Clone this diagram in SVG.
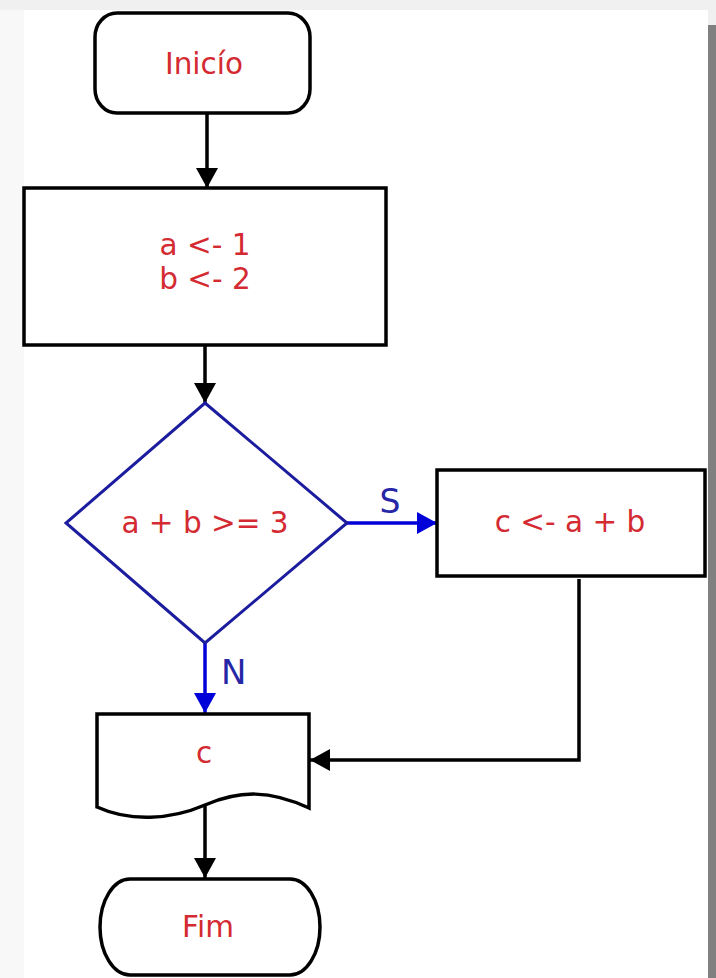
<svg xmlns="http://www.w3.org/2000/svg" width="716" height="978" viewBox="0 0 716 978">
<style>
.shape{fill:#ffffff;stroke:#000000;stroke-width:3.5}
.dia{fill:#ffffff;stroke:#1c1c9e;stroke-width:3}
.lbl{font-family:"DejaVu Sans",Verdana,sans-serif;font-size:29.5px;fill:#d42a32;text-anchor:middle}
.lbl2{font-family:"DejaVu Sans",Verdana,sans-serif;fill:#2626a6}
.conn{fill:none;stroke:#000000;stroke-width:3.5}
.connb{fill:none;stroke:#0000d8;stroke-width:3.5}
</style>
<defs>
<marker id="ah" markerUnits="userSpaceOnUse" markerWidth="22" markerHeight="24" refX="20" refY="11" orient="auto">
<path d="M0,0 L20,11 L0,22 Z" fill="#000000"/>
</marker>
<marker id="ahb" markerUnits="userSpaceOnUse" markerWidth="22" markerHeight="24" refX="20" refY="11" orient="auto">
<path d="M0,0 L20,11 L0,22 Z" fill="#0000d8"/>
</marker>
</defs>
<rect x="0" y="0" width="716" height="978" fill="#f0f0f0"/>
<rect x="0" y="10" width="24" height="968" fill="#f8f8f8"/>
<rect x="24" y="10" width="684" height="968" fill="#ffffff"/>
<rect x="708" y="25" width="8" height="953" fill="#808080"/>

<g id="connectors">
<path class="conn" d="M207,113 V188" marker-end="url(#ah)"/>
<path class="conn" d="M205,345 V403" marker-end="url(#ah)"/>
<path class="connb" d="M347,523 H437" marker-end="url(#ahb)"/>
<path class="connb" d="M205,643 V713" marker-end="url(#ahb)"/>
<path class="conn" d="M579,579 V760 H310" marker-end="url(#ah)"/>
<path class="conn" d="M205,806 V878" marker-end="url(#ah)"/>
<text class="lbl2" x="390" y="513" font-size="33" text-anchor="middle">S</text>
<text class="lbl2" x="221" y="684" font-size="34">N</text>
</g>

<g id="inicio">
<rect class="shape" x="95" y="13" width="215" height="100" rx="22" ry="24"/>
<text class="lbl" x="204" y="74" fill="#c02a3a">Inicío</text>
</g>

<g id="atrib1">
<rect class="shape" x="24" y="188" width="362" height="157"/>
<text class="lbl" x="205" y="255">a &lt;- 1</text>
<text class="lbl" x="205" y="289">b &lt;- 2</text>
</g>

<g id="decisao">
<path class="dia" d="M205,403 L347,523 L205,643 L66,523 Z"/>
<text class="lbl" x="205" y="533">a + b &gt;= 3</text>
</g>

<g id="atrib2">
<rect class="shape" x="437" y="470" width="268" height="106"/>
<text class="lbl" x="570" y="532">c &lt;- a + b</text>
</g>

<g id="saida">
<path class="shape" d="M97,714 H309 V808 C270,790 240,790 205,805 C170,820 130,822 97,807 Z"/>
<text class="lbl" x="204" y="763">c</text>
</g>

<g id="fim">
<path class="shape" d="M130,879 H290 A30,48 0 0 1 290,975 H130 A30,48 0 0 1 130,879 Z"/>
<text class="lbl" x="208" y="937">Fim</text>
</g>
</svg>
